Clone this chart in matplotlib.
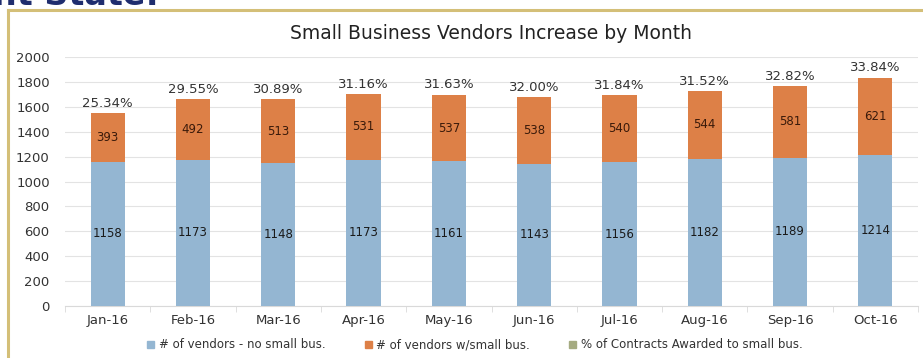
import matplotlib as mpl
mpl.use('Agg')
import matplotlib.pyplot as plt
from matplotlib.patches import Patch
import numpy as np

months = ['Jan-16', 'Feb-16', 'Mar-16', 'Apr-16', 'May-16', 'Jun-16',
          'Jul-16', 'Aug-16', 'Sep-16', 'Oct-16']
no_small = [1158, 1173, 1148, 1173, 1161, 1143, 1156, 1182, 1189, 1214]
with_small = [393, 492, 513, 531, 537, 538, 540, 544, 581, 621]
pct_labels = ['25.34%', '29.55%', '30.89%', '31.16%', '31.63%', '32.00%',
              '31.84%', '31.52%', '32.82%', '33.84%']

blue = '#94b6d2'
orange = '#dd8047'
green = '#a5ab81'

fig = plt.figure(figsize=(9.23, 3.58), dpi=100)

# gold frame of the slide box, plus cut-off heading above it
fig.add_artist(plt.Line2D([8 / 923, 8 / 923], [0, 1 - 10 / 358], color='#d4bf78', lw=2.2))
fig.add_artist(plt.Line2D([8 / 923, 1], [1 - 10 / 358, 1 - 10 / 358], color='#d4bf78', lw=2.2))
fig.text(-0.008, 1 - 5 / 358, 'nt State:', fontsize=24, fontweight='bold',
         color='#1f2d6e', va='baseline', ha='left')

ax = fig.add_axes([65 / 923, 1 - 306 / 358, 853 / 923, 249 / 358])
x = np.arange(len(months))
w = 0.4
ax.bar(x, no_small, w, color=blue, zorder=3)
ax.bar(x, with_small, w, bottom=no_small, color=orange, zorder=3)

for i in range(len(months)):
    ax.text(x[i], no_small[i] / 2, str(no_small[i]), ha='center', va='center',
            fontsize=8.5, color='#1a1a1a', zorder=4)
    ax.text(x[i], no_small[i] + with_small[i] / 2, str(with_small[i]), ha='center',
            va='center', fontsize=8.5, color='#3a1a0a', zorder=4)
    ax.text(x[i], no_small[i] + with_small[i] + 25, pct_labels[i], ha='center',
            va='bottom', fontsize=9.5, color='#333333', zorder=4)

ax.set_xlim(-0.5, len(months) - 0.5)
ax.set_ylim(0, 2000)
ax.set_yticks(range(0, 2001, 200))
ax.set_xticks(x)
ax.set_xticklabels(months)
ax.tick_params(axis='both', labelsize=9.5, colors='#333333', length=0)
ax.tick_params(axis='x', pad=6)
ax.tick_params(axis='y', pad=11)
ax.set_xticks(np.arange(-0.5, len(months)), minor=True)
ax.tick_params(axis='x', which='minor', length=4, color='#d9d9d9')
ax.grid(axis='y', color='#e3e3e3', lw=0.8, zorder=0)
for s in ['top', 'right', 'left']:
    ax.spines[s].set_visible(False)
ax.spines['bottom'].set_color('#d9d9d9')

ax.set_title('Small Business Vendors Increase by Month', fontsize=13.5,
             color='#222222', pad=13)

handles = [Patch(color=blue, label='# of vendors - no small bus.'),
           Patch(color=orange, label='# of vendors w/small bus.'),
           Patch(color=green, label='% of Contracts Awarded to small bus.')]
fig.legend(handles=handles, loc='center', bbox_to_anchor=(475 / 923, 1 - 345 / 358),
           ncol=3, frameon=False, fontsize=8.5, handlelength=0.6, handleheight=0.6,
           columnspacing=3.3, handletextpad=0.4, labelcolor='#333333')

fig.savefig('out.png', dpi=100)
